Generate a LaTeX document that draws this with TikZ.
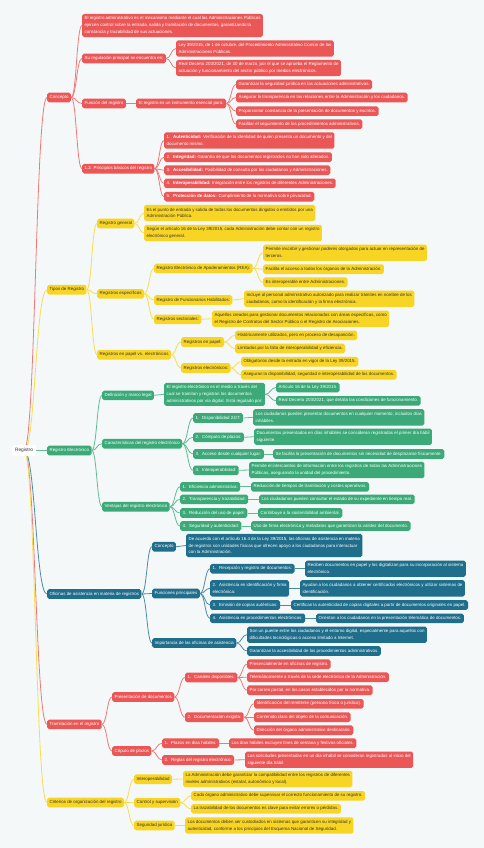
\documentclass[tikz,border=0pt]{standalone}
\usepackage{fontspec}
\setmainfont{Liberation Sans}
\usepackage{xcolor}
\usepackage{tikz}
\usetikzlibrary{calc}
\definecolor{mapred}{HTML}{EB5757}
\definecolor{mapyellow}{HTML}{F8D524}
\definecolor{mapgreen}{HTML}{3BAA78}
\definecolor{mapblue}{HTML}{1F6E8C}
\definecolor{mapbg}{HTML}{F4F8F8}
\definecolor{mapink}{HTML}{333333}
\newcommand{\mapfont}{\fontsize{4.42}{6.7}\selectfont}

\begin{document}
\begin{tikzpicture}[x=1pt, y=-1pt,
    box/.style={rectangle, rounded corners=1.8pt, anchor=west, align=left, inner xsep=2.4pt, inner ysep=1pt, minimum height=9.6pt, font=\mapfont},
    two/.style={minimum height=16.4pt},
    three/.style={minimum height=23.1pt},
    redbox/.style={box, fill=mapred, text=white},
    yellowbox/.style={box, fill=mapyellow, text=mapink},
    greenbox/.style={box, fill=mapgreen, text=white},
    bluebox/.style={box, fill=mapblue, text=white},
    rootbox/.style={rectangle, rounded corners=2pt, fill=white, text=mapink, minimum width=24pt, minimum height=11pt, inner sep=1pt, font=\fontsize{4.8}{6}\selectfont},
    link/.style={draw=#1!80!white, line width=0.8pt, to path={let \p1=(\tikztostart), \p2=(\tikztotarget) in .. controls ({(\x1+\x2)/2},\y1) and ({(\x1+\x2)/2},\y2) .. (\tikztotarget)}}
  ]

    \fill[mapbg] (0,0) rectangle (484,848);
    \useasboundingbox (0,0) rectangle (484,848);
    \coordinate (hub) at (24,450.5);

    % Concepto
    \node[redbox] (c0) at (47,97.5) {Concepto};
    \node[redbox, three] (c1) at (82,25.5) {El registro administrativo es el mecanismo mediante el cual las Administraciones Públicas\\ejercen control sobre la entrada, salida y tramitación de documentos, garantizando la\\constancia y trazabilidad de sus actuaciones.};
    \node[redbox] (c2) at (82,58.5) {Su regulación principal se encuentra en:};
    \node[redbox, two] (c21) at (176,48.5) {Ley 39/2015, de 1 de octubre, del Procedimiento Administrativo Común de las\\Administraciones Públicas.};
    \node[redbox, two] (c22) at (176,68) {Real Decreto 203/2021, de 30 de marzo, por el que se aprueba el Reglamento de\\actuación y funcionamiento del sector público por medios electrónicos.};
    \node[redbox] (c3) at (82,103.5) {Función del registro};
    \node[redbox] (c31) at (136,103.5) {El registro es un instrumento esencial para:};
    \node[redbox] (c311) at (236,84.5) {Garantizar la seguridad jurídica en las actuaciones administrativas.};
    \node[redbox] (c312) at (236,97.5) {Asegurar la transparencia en las relaciones entre la Administración y los ciudadanos.};
    \node[redbox] (c313) at (236,111.2) {Proporcionar constancia de la presentación de documentos y escritos.};
    \node[redbox] (c314) at (236,124.2) {Facilitar el seguimiento de los procedimientos administrativos.};
    \node[redbox] (c4) at (82,168.7) {1.2. Principios básicos del registro};
    \node[redbox, two] (c41) at (164,140.5) {1.~ \textbf{Autenticidad:} Verificación de la identidad de quien presenta un documento y del\\documento mismo.};
    \node[redbox] (c42) at (164,157.2) {2.~ \textbf{Integridad:} Garantía de que los documentos registrados no han sido alterados.};
    \node[redbox] (c43) at (164,170.2) {3.~ \textbf{Accesibilidad:} Posibilidad de consulta por los ciudadanos y Administraciones.};
    \node[redbox] (c44) at (164,183.3) {4.~ \textbf{Interoperabilidad:} Integración entre los registros de diferentes Administraciones.};
    \node[redbox] (c45) at (164,196.7) {5.~ \textbf{Protección de datos:} Cumplimiento de la normativa sobre privacidad.};

    % Tipos de Registro
    \node[yellowbox] (t0) at (47,289.7) {Tipos de Registro};
    \node[yellowbox] (t1) at (97,223.5) {Registro general};
    \node[yellowbox, two] (t11) at (144,213) {Es el punto de entrada y salida de todos los documentos dirigidos o emitidos por una\\Administración Pública.};
    \node[yellowbox, two] (t12) at (144,233) {Según el artículo 16 de la Ley 39/2015, cada Administración debe contar con un registro\\electrónico general.};
    \node[yellowbox] (t2) at (97,293.8) {Registros específicos};
    \node[yellowbox] (t21) at (154,268.3) {Registro Electrónico de Apoderamientos (REA):};
    \node[yellowbox, two] (t211) at (263,252.7) {Permite inscribir y gestionar poderes otorgados para actuar en representación de\\terceros.};
    \node[yellowbox] (t212) at (263,269.2) {Facilita el acceso a todos los órganos de la Administración.};
    \node[yellowbox] (t213) at (263,282.2) {Es interoperable entre Administraciones.};
    \node[yellowbox] (t22) at (154,300) {Registro de Funcionarios Habilitados:};
    \node[yellowbox, two] (t221) at (244,298.7) {Incluye al personal administrativo autorizado para realizar trámites en nombre de los\\ciudadanos, como la identificación y la firma electrónica.};
    \node[yellowbox] (t23) at (154,319.3) {Registros sectoriales:};
    \node[yellowbox, two] (t231) at (212,318.7) {Aquellos creados para gestionar documentos relacionados con áreas específicas, como\\el Registro de Contratos del Sector Público o el Registro de Asociaciones.};
    \node[yellowbox] (t3) at (97,354.7) {Registros en papel vs. electrónicos};
    \node[yellowbox] (t31) at (181,342) {Registros en papel:};
    \node[yellowbox] (t311) at (235,335.3) {Históricamente utilizados, pero en proceso de desaparición.};
    \node[yellowbox] (t312) at (235,348.5) {Limitados por la falta de interoperabilidad y eficiencia.};
    \node[yellowbox] (t32) at (181,368) {Registros electrónicos:};
    \node[yellowbox] (t321) at (241,361.7) {Obligatorios desde la entrada en vigor de la Ley 39/2015.};
    \node[yellowbox] (t322) at (241,374.7) {Aseguran la disponibilidad, seguridad e interoperabilidad de los documentos.};

    % Registro Electronico
    \node[greenbox] (e0) at (47,450.5) {Registro Electrónico};
    \node[greenbox] (e1) at (102,395.3) {Definición y marco legal};
    \node[greenbox, three] (e11) at (164,394.3) {El registro electrónico es el medio a través del\\cual se tramitan y registran los documentos\\administrativos por vía digital. Está regulado por:};
    \node[greenbox] (e111) at (276,387.5) {Artículo 16 de la Ley 39/2015.};
    \node[greenbox] (e112) at (276,400.8) {Real Decreto 203/2021, que detalla las condiciones de funcionamiento.};
    \node[greenbox] (e2) at (102,443.7) {Características del registro electrónico};
    \node[greenbox] (e21) at (193,418) {1.~ Disponibilidad 24/7:};
    \node[greenbox, two] (e211) at (253,417.3) {Los ciudadanos pueden presentar documentos en cualquier momento, incluidos días\\inhábiles.};
    \node[greenbox] (e22) at (193,437.3) {2.~ Cómputo de plazos:};
    \node[greenbox, two] (e221) at (254,436.7) {Documentos presentados en días inhábiles se consideran registrados el primer día hábil\\siguiente.};
    \node[greenbox] (e23) at (193,454) {3.~ Acceso desde cualquier lugar:};
    \node[greenbox] (e231) at (273,454) {Se facilita la presentación de documentos sin necesidad de desplazarse físicamente.};
    \node[greenbox] (e24) at (193,470.3) {4.~ Interoperabilidad:};
    \node[greenbox, two] (e241) at (249,470) {Permite el intercambio de información entre los registros de todas las Administraciones\\Públicas, asegurando la unidad del procedimiento.};
    \node[greenbox] (e3) at (102,506.7) {Ventajas del registro electrónico};
    \node[greenbox] (e31) at (180,486.8) {1.~ Eficiencia administrativa:};
    \node[greenbox] (e311) at (251,486.8) {Reducción de tiempos de tramitación y costes operativos.};
    \node[greenbox] (e32) at (180,499.3) {2.~ Transparencia y trazabilidad:};
    \node[greenbox] (e321) at (259,499.3) {Los ciudadanos pueden consultar el estado de su expediente en tiempo real.};
    \node[greenbox] (e33) at (180,513) {3.~ Reducción del uso de papel:};
    \node[greenbox] (e331) at (258,513) {Contribuye a la sostenibilidad ambiental.};
    \node[greenbox] (e34) at (180,526) {4.~ Seguridad y autenticidad:};
    \node[greenbox] (e341) at (251,526) {Uso de firma electrónica y metadatos que garantizan la validez del documento.};

    % Oficinas de asistencia
    \node[bluebox] (o0) at (47,594) {Oficinas de asistencia en materia de registros};
    \node[bluebox] (o1) at (152,546.7) {Concepto};
    \node[bluebox, three] (o11) at (186,545.5) {De acuerdo con el artículo 16.4 de la Ley 39/2015, las oficinas de asistencia en materia\\de registros son unidades físicas que ofrecen apoyo a los ciudadanos para interactuar\\con la Administración.};
    \node[bluebox] (o2) at (152,593.5) {Funciones principales};
    \node[bluebox] (o21) at (210,568.7) {1.~ Recepción y registro de documentos:};
    \node[bluebox, two] (o211) at (305,568.7) {Reciben documentos en papel y los digitalizan para su incorporación al sistema\\electrónico.};
    \node[bluebox, two] (o22) at (210,588.3) {2.~ Asistencia en identificación y firma\\electrónica:};
    \node[bluebox, two] (o221) at (300,588.3) {Ayudan a los ciudadanos a obtener certificados electrónicos y utilizar sistemas de\\identificación.};
    \node[bluebox] (o23) at (210,605) {3.~ Emisión de copias auténticas:};
    \node[bluebox] (o231) at (291,605) {Certifican la autenticidad de copias digitales a partir de documentos originales en papel.};
    \node[bluebox] (o24) at (210,618.3) {4.~ Asistencia en procedimientos electrónicos:};
    \node[bluebox] (o241) at (316,618.3) {Orientan a los ciudadanos en la presentación telemática de documentos.};
    \node[bluebox] (o3) at (152,643) {Importancia de las oficinas de asistencia};
    \node[bluebox, two] (o31) at (247,634.7) {Son un puente entre los ciudadanos y el entorno digital, especialmente para aquellos con\\dificultades tecnológicas o acceso limitado a Internet.};
    \node[bluebox] (o32) at (247,651) {Garantizan la accesibilidad de los procedimientos administrativos.};

    % Tramitacion
    \node[redbox] (r0) at (47,724.3) {Tramitación en el registro};
    \node[redbox] (r1) at (112,697) {Presentación de documentos};
    \node[redbox] (r11) at (185,677.5) {1.~ Canales disponibles:};
    \node[redbox] (r111) at (247,664.2) {Presencialmente en oficinas de registro.};
    \node[redbox] (r112) at (247,677.2) {Telemáticamente a través de la sede electrónica de la Administración.};
    \node[redbox] (r113) at (247,690.2) {Por correo postal, en los casos establecidos por la normativa.};
    \node[redbox] (r12) at (185,717.2) {2.~ Documentación exigida:};
    \node[redbox] (r121) at (254,703.8) {Identificación del remitente (persona física o jurídica).};
    \node[redbox] (r122) at (254,717.2) {Contenido claro del objeto de la comunicación.};
    \node[redbox] (r123) at (254,730.2) {Dirección del órgano administrativo destinatario.};
    \node[redbox] (r2) at (112,751) {Cóputo de plazos};
    \node[redbox] (r21) at (162,743.2) {1.~ Plazos en días hábiles:};
    \node[redbox] (r211) at (229,743.2) {Los días hábiles excluyen fines de semana y festivos oficiales.};
    \node[redbox] (r22) at (162,760) {2.~ Reglas del registro electrónico:};
    \node[redbox, two] (r221) at (245,759.7) {Las solicitudes presentadas en un día inhábil se consideran registradas al inicio del\\siguiente día hábil.};

    % Criterios de organizacion
    \node[yellowbox] (k0) at (47,802.5) {Criterios de organización del registro};
    \node[yellowbox] (k1) at (134,779.2) {Interoperabilidad};
    \node[yellowbox, two] (k11) at (183,779) {La Administración debe garantizar la compatibilidad entre los registros de diferentes\\niveles administrativos (estatal, autonómico y local).};
    \node[yellowbox] (k2) at (134,802.7) {Control y supervisión};
    \node[yellowbox] (k21) at (191,795.8) {Cada órgano administrativo debe supervisar el correcto funcionamiento de su registro.};
    \node[yellowbox] (k22) at (191,808.8) {La trazabilidad de los documentos es clave para evitar errores o pérdidas.};
    \node[yellowbox] (k3) at (134,825.5) {Seguridad jurídica};
    \node[yellowbox, two] (k31) at (185,825.5) {Los documentos deben ser custodiados en sistemas que garanticen su integridad y\\autenticidad, conforme a los principios del Esquema Nacional de Seguridad.};

    % links
    \draw[link=mapred] (hub) to (c0.west);
    \draw[link=mapyellow] (hub) to (t0.west);
    \draw[link=mapgreen] (hub) to (e0.west);
    \draw[link=mapblue] (hub) to (o0.west);
    \draw[link=mapred] (hub) to (r0.west);
    \draw[link=mapyellow] (hub) to (k0.west);

    \foreach \c in {c1,c2,c3,c4} \draw[link=mapred] (c0.east) to (\c.west);
    \foreach \c in {c21,c22} \draw[link=mapred] (c2.east) to (\c.west);
    \draw[link=mapred] (c3.east) to (c31.west);
    \foreach \c in {c311,c312,c313,c314} \draw[link=mapred] (c31.east) to (\c.west);
    \foreach \c in {c41,c42,c43,c44,c45} \draw[link=mapred] (c4.east) to (\c.west);

    \foreach \c in {t1,t2,t3} \draw[link=mapyellow] (t0.east) to (\c.west);
    \foreach \c in {t11,t12} \draw[link=mapyellow] (t1.east) to (\c.west);
    \foreach \c in {t21,t22,t23} \draw[link=mapyellow] (t2.east) to (\c.west);
    \foreach \c in {t211,t212,t213} \draw[link=mapyellow] (t21.east) to (\c.west);
    \draw[link=mapyellow] (t22.east) to (t221.west);
    \draw[link=mapyellow] (t23.east) to (t231.west);
    \foreach \c in {t31,t32} \draw[link=mapyellow] (t3.east) to (\c.west);
    \foreach \c in {t311,t312} \draw[link=mapyellow] (t31.east) to (\c.west);
    \foreach \c in {t321,t322} \draw[link=mapyellow] (t32.east) to (\c.west);

    \foreach \c in {e1,e2,e3} \draw[link=mapgreen] (e0.east) to (\c.west);
    \draw[link=mapgreen] (e1.east) to (e11.west);
    \foreach \c in {e111,e112} \draw[link=mapgreen] (e11.east) to (\c.west);
    \foreach \c in {e21,e22,e23,e24} \draw[link=mapgreen] (e2.east) to (\c.west);
    \foreach \c in {e31,e32,e33,e34} \draw[link=mapgreen] (e3.east) to (\c.west);
    \foreach \q in {e21,e22,e23,e24,e31,e32,e33,e34} \draw[link=mapgreen] (\q.east) to (\q1.west);

    \foreach \c in {o1,o2,o3} \draw[link=mapblue] (o0.east) to (\c.west);
    \draw[link=mapblue] (o1.east) to (o11.west);
    \foreach \c in {o21,o22,o23,o24} \draw[link=mapblue] (o2.east) to (\c.west);
    \foreach \q in {o21,o22,o23,o24} \draw[link=mapblue] (\q.east) to (\q1.west);
    \foreach \c in {o31,o32} \draw[link=mapblue] (o3.east) to (\c.west);

    \foreach \c in {r1,r2} \draw[link=mapred] (r0.east) to (\c.west);
    \foreach \c in {r11,r12} \draw[link=mapred] (r1.east) to (\c.west);
    \foreach \c in {r111,r112,r113} \draw[link=mapred] (r11.east) to (\c.west);
    \foreach \c in {r121,r122,r123} \draw[link=mapred] (r12.east) to (\c.west);
    \foreach \c in {r21,r22} \draw[link=mapred] (r2.east) to (\c.west);
    \foreach \q in {r21,r22} \draw[link=mapred] (\q.east) to (\q1.west);

    \foreach \c in {k1,k2,k3} \draw[link=mapyellow] (k0.east) to (\c.west);
    \draw[link=mapyellow] (k1.east) to (k11.west);
    \foreach \c in {k21,k22} \draw[link=mapyellow] (k2.east) to (\c.west);
    \draw[link=mapyellow] (k3.east) to (k31.west);

    \node[rootbox] (root) at (hub) {Registro};

  \end{tikzpicture}
\end{document}
